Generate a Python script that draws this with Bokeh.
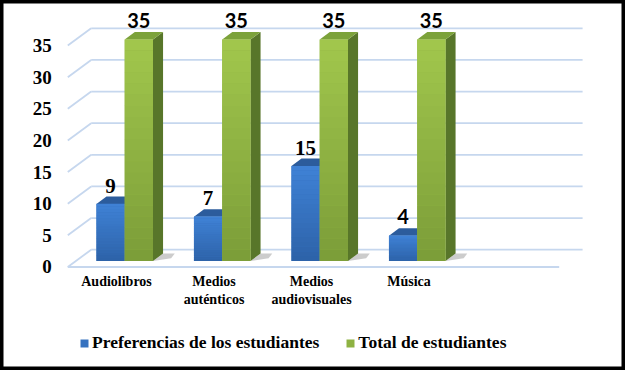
from bokeh.plotting import figure
from bokeh.models import Range1d, Legend, LegendItem
from bokeh.embed import file_html
from bokeh.resources import INLINE
from bokeh.core.properties import value

# ---------------- data ----------------
categories = ["Audiolibros", "Medios\nauténticos", "Medios\naudiovisuales", "Música"]
preferencias = [9, 7, 15, 4]
total = [35, 35, 35, 35]
series_names = ["Preferencias de los estudiantes", "Total de estudiantes"]
y_ticks = [0, 5, 10, 15, 20, 25, 30, 35]

# ---------------- layout / style ----------------
W, H = 625, 370
SX, SY = W / 641.0, H / 386.0
PX_X = 100.0 * SX      # pixels per category slot
PX_Y = 6.6 * SY        # pixels per value unit
X0_PX = 119 * SX       # pixel of first category centre (front plane)
Y0_PX = 278 * SY       # pixel (from top) of value 0 (front plane)
x_start = -X0_PX / PX_X
y_top = Y0_PX / PX_Y

DX = 24 * SX / PX_X    # depth offset of back wall (x, data units)
DY = 18 * SY / PX_Y    # depth offset of back wall (y, data units)
D0, D1 = 0.35, 0.78    # bar depth (front / back)
BW = 0.29              # bar width (category units)

n = len(categories)
x_lo = -0.5
x_hi = n + 0.54

grid_color = "#C6D7EE"
front_bottom = ["#2D62A8", "#7B9D38"]
front_top = ["#3F82D6", "#A2C74D"]
top_color = ["#2C5C9C", "#7CA23A"]
side_color = ["#234D85", "#58762A"]
serif = "'Liberation Serif'"
sans = "Lato"

p = figure(width=W, height=H,
           x_range=Range1d(x_start, x_start + W / PX_X),
           y_range=Range1d(y_top - H / PX_Y, y_top),
           x_axis_type=None, y_axis_type=None,
           toolbar_location=None, output_backend="svg",
           min_border=0, background_fill_color="white")
p.outline_line_color = "black"
p.outline_line_width = 6
p.grid.visible = False


def proj(x, v, d):
    return x + d * DX, v + d * DY


# ---------------- walls / grid ----------------
gx0, gy0, gx1, gy1 = [], [], [], []
for t in y_ticks:
    a = proj(x_lo, t, 0)
    b = proj(x_lo, t, 1)
    c = proj(x_hi, t, 1)
    gx0 += [a[0], b[0]]
    gy0 += [a[1], b[1]]
    gx1 += [b[0], c[0]]
    gy1 += [b[1], c[1]]
# floor front edge
gx0.append(x_lo); gy0.append(0); gx1.append(x_hi); gy1.append(0)
p.segment(x0=gx0, y0=gy0, x1=gx1, y1=gy1, line_color=grid_color, line_width=1.8)

# y tick labels
p.text(x=[x_lo] * len(y_ticks), y=y_ticks, text=[str(t) for t in y_ticks],
       x_offset=-16, text_align="right", text_baseline="middle",
       text_font=value(serif), text_font_style="bold", text_font_size="19px",
       text_color="black")


def mix(c1, c2, f):
    a = [int(c1[i:i + 2], 16) for i in (1, 3, 5)]
    b = [int(c2[i:i + 2], 16) for i in (1, 3, 5)]
    return "#%02x%02x%02x" % tuple(int(round(a[k] + (b[k] - a[k]) * f)) for k in range(3))


legend_items = []
series = [preferencias, total]
K = 20
for s, vals in enumerate(series):
    lefts = [i - BW + s * BW + D0 * DX for i in range(n)]
    rights = [l + BW for l in lefts]
    # shadow on floor
    if s == 1:
        shx, shy = [], []
        for i, v in enumerate(vals):
            xr = i - BW + (s + 1) * BW
            pts = [proj(xr, 0, D0), proj(xr + 0.15, 0, D0 + 0.15), proj(xr + 0.12, 0, D1), proj(xr, 0, D1)]
            shx.append([q[0] for q in pts]); shy.append([q[1] for q in pts])
        p.patches(xs=shx, ys=shy, fill_color="#7f7f7f", fill_alpha=0.4, line_color=None)
    # side and top faces
    sx, sy = [], []
    tx, ty = [], []
    for i, v in enumerate(vals):
        xl = i - BW + s * BW
        xr = xl + BW
        pts = [proj(xr, 0, D0), proj(xr, v, D0), proj(xr, v, D1), proj(xr, 0, D1)]
        sx.append([q[0] for q in pts]); sy.append([q[1] for q in pts])
        pts = [proj(xl, v, D0), proj(xr, v, D0), proj(xr, v, D1), proj(xl, v, D1)]
        tx.append([q[0] for q in pts]); ty.append([q[1] for q in pts])
    p.patches(xs=sx, ys=sy, fill_color=side_color[s], line_color=None)
    p.patches(xs=tx, ys=ty, fill_color=top_color[s], line_color=None)
    # front faces (base + gradient)
    base = p.quad(left=lefts, right=rights, bottom=[D0 * DY] * n,
                  top=[v + D0 * DY for v in vals],
                  fill_color=mix(front_bottom[s], front_top[s], 0.5), line_color=None)
    ql, qr, qb, qt, qc = [], [], [], [], []
    for i, v in enumerate(vals):
        for j in range(K):
            ql.append(lefts[i]); qr.append(rights[i])
            qb.append(v * j / K + D0 * DY)
            qt.append(v * (j + 1) / K + D0 * DY + 0.02)
            qc.append(mix(front_bottom[s], front_top[s], (j + 0.5) / K))
    p.quad(left=ql, right=qr, bottom=qb, top=qt, fill_color=qc, line_color=None)
    legend_items.append(LegendItem(label=series_names[s], renderers=[base]))

# value labels (serif for the larger blue values, sans elsewhere, as in the original)
for fam in (serif, sans):
    lx, ly, lt = [], [], []
    for s, vals in enumerate(series):
        for i, v in enumerate(vals):
            f = serif if (s == 0 and v > 5) else sans
            if f != fam:
                continue
            xl = i - BW + s * BW
            lx.append(xl + BW / 2 + D0 * DX)
            ly.append(v + D1 * DY)
            lt.append(str(v))
    p.text(x=lx, y=ly, text=lt, y_offset=-4,
           text_align="center", text_baseline="bottom", text_font=value(fam),
           text_font_style="bold", text_font_size="21px" if fam == serif else "20px",
           text_color="black")

# category labels
p.text(x=list(range(n)), y=[0] * n, text=categories, y_offset=7,
       text_align="center", text_baseline="top", text_line_height=1.2,
       text_font=value(serif), text_font_style="bold", text_font_size="14px",
       text_color="black")

legend = Legend(items=legend_items, orientation="horizontal", location=(79, 17),
                glyph_width=10, glyph_height=10, label_standoff=3, spacing=26,
                padding=0, margin=0, border_line_color=None,
                background_fill_alpha=0,
                label_text_font=serif, label_text_font_style="bold",
                label_text_font_size="17.5px", label_text_color="black")
p.add_layout(legend, "center")

open("out.html", "w").write(file_html(p, INLINE))
